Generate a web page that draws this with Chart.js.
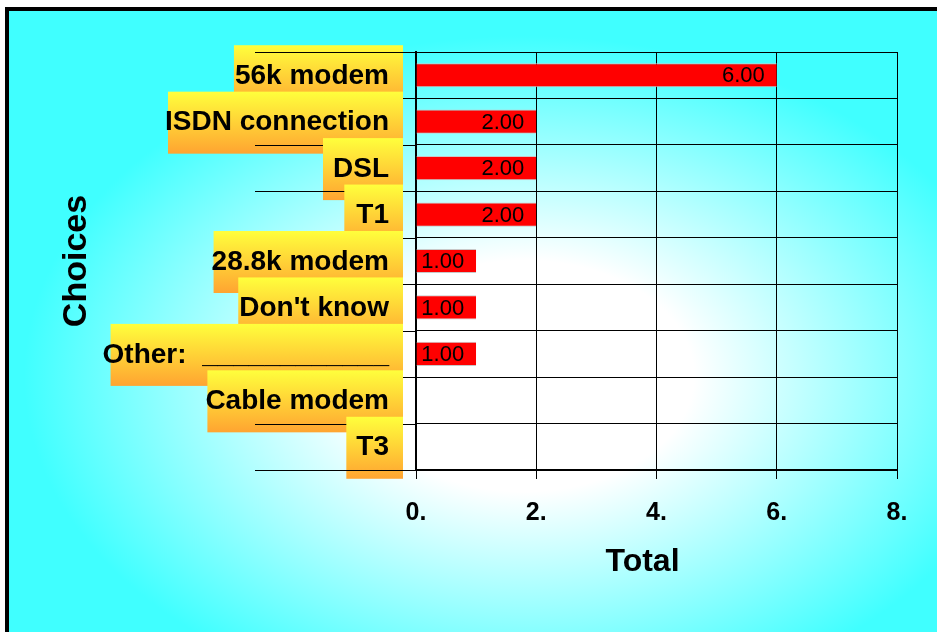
<!DOCTYPE html>
<html>
<head>
<meta charset="utf-8">
<script src="https://cdn.jsdelivr.net/npm/chart.js@4.4.1/dist/chart.umd.min.js"></script>
<style>
  html, body { margin: 0; padding: 0; background: #fff; overflow: hidden; }
  #frame {
    position: absolute; left: 5px; top: 7px; width: 960px; height: 660px;
    border-left: 4px solid #000; border-top: 4px solid #000;
    background: radial-gradient(ellipse 500px 340px at 515px 365px, #ffffff 0%, #ffffff 34%, #40ffff 100%);
  }
  #chart { position: absolute; left: 0; top: 0; }
</style>
</head>
<body>
<div id="frame"></div>
<canvas id="chart" width="937" height="632"></canvas>
<script>
// données du graphique
const choices = ['56k modem', 'ISDN connection', 'DSL', 'T1', '28.8k modem', "Don't know", 'Other:  ____________', 'Cable modem', 'T3'];
const totals = [6, 2, 2, 2, 1, 1, 1, 0, 0];
const xTickLabels = ['0.', '2.', '4.', '6.', '8.'];
const xTitle = 'Total';

// décalage gauche des cadres jaunes (par étiquette)
const boxPad = [1, -3, 10, 12, -2, 1, -8, -2, 10];

Chart.defaults.font.family = '"Liberation Sans", Arial, sans-serif';

const labelBoxes = {
    id: 'labelBoxes',
    afterDraw(chart) {
        const { ctx } = chart;
        const x = chart.scales.x;
        const y = chart.scales.y;
        const half = (y.getPixelForValue(1) - y.getPixelForValue(0)) / 2;
        const textRight = 389;
        const boxRight = 403;

        const drawLine = (py) => {
            const yy = Math.round(py) + 0.5;
            ctx.beginPath();
            ctx.moveTo(255, yy);
            ctx.lineTo(x.left, yy);
            ctx.stroke();
        };

        ctx.save();
        ctx.strokeStyle = '#000';
        ctx.lineWidth = 1;
        ctx.textAlign = 'right';
        ctx.textBaseline = 'middle';

        choices.forEach((label, i) => {
            const cy = y.getPixelForValue(i);
            ctx.font = 'bold 28px "Liberation Sans", Arial, sans-serif';
            const w = ctx.measureText(label).width;
            const left = textRight - w - boxPad[i];
            const top = cy - 30;
            const bottom = cy + 32;
            const g = ctx.createLinearGradient(0, top, 0, bottom);
            g.addColorStop(0, '#ffff3c');
            g.addColorStop(1, '#ffa431');
            ctx.fillStyle = g;
            ctx.fillRect(left, top, boxRight - left, bottom - top);

            ctx.fillStyle = '#000';
            ctx.fillText(label, textRight, cy + 1);

            if (i === 0) drawLine(cy - half);
            drawLine(cy + half);
        });

        // valeurs dans les barres
        ctx.font = '22px "Liberation Sans", Arial, sans-serif';
        ctx.fillStyle = '#000';
        totals.forEach((v, i) => {
            if (!v) return;
            const px = x.getPixelForValue(v);
            ctx.fillText(v.toFixed(2), px - 12, y.getPixelForValue(i) + 1);
        });

        // titre de l'axe x (légèrement décalé à gauche comme l'original)
        ctx.textAlign = 'center';
        ctx.font = 'bold 32px "Liberation Sans", Arial, sans-serif';
        ctx.fillText(xTitle, (x.left + x.right) / 2 - 14, 562);
        ctx.restore();
    }
};

new Chart(document.getElementById('chart'), {
    type: 'bar',
    data: {
        labels: choices,
        datasets: [{
            data: totals,
            backgroundColor: '#ff0000',
            borderColor: '#c8c8c8',
            borderWidth: { top: 1, bottom: 1, left: 0, right: 0 },
            borderSkipped: false,
            categoryPercentage: 1,
            barPercentage: 0.52
        }]
    },
    options: {
        indexAxis: 'y',
        responsive: false,
        animation: false,
        devicePixelRatio: 1,
        layout: { padding: { top: 52, right: 40, left: 0, bottom: 0 } },
        plugins: {
            legend: { display: false },
            tooltip: { enabled: false }
        },
        scales: {
            x: {
                min: 0,
                max: 8,
                ticks: {
                    stepSize: 2,
                    color: '#000',
                    padding: 19,
                    font: { size: 25, weight: 'bold' },
                    callback: (v, i) => xTickLabels[i]
                },
                grid: { color: '#000', lineWidth: 1, tickLength: 9 },
                border: { color: '#000', width: 2 },
                afterFit(scale) { scale.height = 162; }
            },
            y: {
                ticks: { display: false },
                grid: { color: '#000', lineWidth: 1, offset: true, drawTicks: false },
                border: { color: '#000', width: 2 },
                title: {
                    display: true,
                    text: 'Choices',
                    color: '#000',
                    font: { size: 34, weight: 'bold' },
                    padding: { top: 56, bottom: 0 }
                },
                afterFit(scale) { scale.width = 416; }
            }
        }
    },
    plugins: [labelBoxes]
});
</script>
</body>
</html>
